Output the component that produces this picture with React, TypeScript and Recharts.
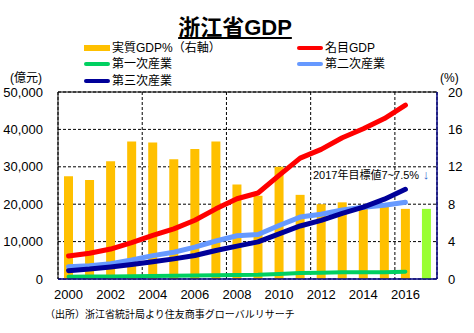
import React from 'react';
import { ComposedChart, Bar, Line, XAxis, YAxis, CartesianGrid, Cell, ReferenceLine } from 'recharts';

const years = [2000, 2001, 2002, 2003, 2004, 2005, 2006, 2007, 2008, 2009, 2010, 2011, 2012, 2013, 2014, 2015, 2016, 2017];
const realGrowth = [11.0, 10.6, 12.6, 14.7, 14.6, 12.8, 13.9, 14.7, 10.1, 8.9, 12.0, 9.0, 8.0, 8.2, 7.6, 8.0, 7.5, 7.5];
const nominalGDP = [6141, 6898, 8004, 9705, 11649, 13418, 15718, 18754, 21463, 22990, 27722, 32319, 34665, 37757, 40173, 42886, 46485, null];
const primaryInd = [630, 659, 685, 717, 815, 873, 926, 986, 1095, 1163, 1361, 1581, 1668, 1785, 1779, 1833, 1966, null];
const secondaryInd = [3274, 3573, 4090, 5096, 6250, 7166, 8510, 10155, 11567, 11908, 14297, 16555, 17316, 18447, 19175, 19712, 20518, null];
const tertiaryInd = [2237, 2666, 3229, 3893, 4584, 5379, 6282, 7613, 8801, 9919, 12064, 14181, 15681, 17525, 19220, 21341, 24001, null];
const leftTicks = [0, 10000, 20000, 30000, 40000, 50000];
const rightTicks = [0, 4, 8, 12, 16, 20];
const targetYear = 2017;

const data = years.map((year, i) => ({
  year,
  growth: realGrowth[i],
  nominal: nominalGDP[i],
  primary: primaryInd[i],
  secondary: secondaryInd[i],
  tertiary: tertiaryInd[i],
}));

const gridTicks = years
  .filter((y) => (y - years[0]) % 2 === 1 && y < years[years.length - 1])
  .map((y) => y + 0.5);

const FONT = '"Liberation Sans", "Noto Sans CJK JP", sans-serif';
const ORANGE = '#ffc000';
const LIME = '#99ff33';
const RED = '#ff0000';
const GREEN = '#00d060';
const LIGHTBLUE = '#6699ff';
const NAVY = '#000099';
const AXIS_NAVY = '#000080';

const abs = (x: number, y: number, extra: React.CSSProperties = {}): React.CSSProperties => ({
  position: 'absolute',
  left: x,
  top: y,
  whiteSpace: 'nowrap',
  lineHeight: 1,
  ...extra,
});

function LegendItem({ x, y, color, label, bar }: { x: number; y: number; color: string; label: string; bar?: boolean }) {
  return (
    <div style={abs(x, y - 7, { display: 'flex', alignItems: 'center', height: 14 })}>
      <div
        style={{
          width: 26,
          height: bar ? 6 : 4,
          background: color,
          borderRadius: bar ? 0 : 2,
          marginRight: 2,
        }}
      />
      <span style={{ fontSize: 12, color: '#000' }}>{label}</span>
    </div>
  );
}

export default function App() {
  return (
    <div
      style={{
        position: 'fixed',
        left: 0,
        top: 0,
        width: 474,
        height: 333,
        background: '#fff',
        fontFamily: FONT,
        overflow: 'hidden',
      }}
    >
      <ComposedChart
        width={474}
        height={333}
        data={data}
        margin={{ top: 92, right: 0, left: 0, bottom: 24 }}
      >
        <CartesianGrid
          xAxisId="grid"
          yAxisId="left"
          stroke="#000"
          strokeDasharray="3 2"
          verticalFill={[]}
        />
        <XAxis
          dataKey="year"
          type="category"
          interval={1}
          height={30}
          axisLine={{ stroke: AXIS_NAVY, strokeWidth: 1.5 }}
          tickLine={false}
          tickSize={0}
          tickMargin={11}
          tick={{ fill: '#000', fontSize: 13, fontFamily: FONT }}
        />
        <XAxis
          xAxisId="grid"
          dataKey="year"
          type="number"
          domain={[years[0] - 0.5, years[years.length - 1] + 0.5]}
          allowDataOverflow
          ticks={gridTicks}
          hide
        />
        <YAxis
          yAxisId="left"
          orientation="left"
          width={58}
          domain={[0, 50000]}
          ticks={leftTicks}
          tickFormatter={(v: number) => v.toLocaleString('en-US')}
          axisLine={{ stroke: '#000' }}
          tickLine={false}
          tickSize={0}
          tickMargin={15}
          tick={{ fill: '#000', fontSize: 13, fontFamily: FONT }}
        />
        <YAxis
          yAxisId="right"
          orientation="right"
          width={37}
          domain={[0, 20]}
          ticks={rightTicks}
          axisLine={{ stroke: AXIS_NAVY, strokeWidth: 1.5 }}
          tickLine={false}
          tickSize={0}
          tickMargin={11}
          tick={{ fill: '#000', fontSize: 13, fontFamily: FONT }}
        />
        <ReferenceLine yAxisId="left" y={50000} stroke="#000" strokeWidth={1} />
        <Bar yAxisId="right" dataKey="growth" barSize={9} isAnimationActive={false}>
          {data.map((d) => (
            <Cell key={d.year} fill={d.year === targetYear ? LIME : ORANGE} />
          ))}
        </Bar>
        <Line yAxisId="left" dataKey="primary" stroke={GREEN} strokeWidth={4} dot={false} strokeLinecap="round" isAnimationActive={false} />
        <Line yAxisId="left" dataKey="secondary" stroke={LIGHTBLUE} strokeWidth={5} dot={false} strokeLinecap="round" strokeLinejoin="round" isAnimationActive={false} />
        <Line yAxisId="left" dataKey="tertiary" stroke={NAVY} strokeWidth={5} dot={false} strokeLinecap="round" strokeLinejoin="round" isAnimationActive={false} />
        <Line yAxisId="left" dataKey="nominal" stroke={RED} strokeWidth={5} dot={false} strokeLinecap="round" strokeLinejoin="round" isAnimationActive={false} />
      </ComposedChart>

      <div
        style={abs(0, 17, {
          width: 470,
          textAlign: 'center',
          fontSize: 22,
          fontWeight: 'bold',
          textDecoration: 'underline',
          color: '#000',
        })}
      >
        浙江省GDP
      </div>

      <LegendItem x={84} y={48} color={ORANGE} label="実質GDP%（右軸）" bar />
      <LegendItem x={84} y={64} color={GREEN} label="第一次産業" />
      <LegendItem x={84} y={81} color={NAVY} label="第三次産業" />
      <LegendItem x={297} y={48} color={RED} label="名目GDP" />
      <LegendItem x={297} y={64} color={LIGHTBLUE} label="第二次産業" />

      <div style={abs(10, 72, { fontSize: 12, color: '#000' })}>(億元)</div>
      <div style={abs(440, 72, { fontSize: 12, color: '#000' })}>(%)</div>

      <div style={abs(313, 168, { fontSize: 11, color: '#000' })}>
        2017年目標値7~7.5%<span style={{ color: '#3366cc', fontSize: 13 }}> ↓</span>
      </div>

      <div style={abs(45, 310, { fontSize: 10, color: '#000' })}>
        （出所）浙江省統計局より住友商事グローバルリサーチ
      </div>
    </div>
  );
}
